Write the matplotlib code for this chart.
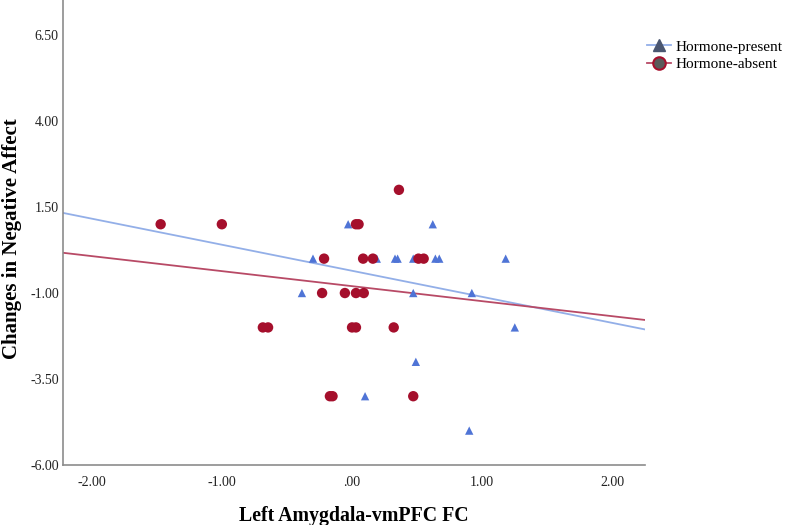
import numpy as np
import matplotlib.pyplot as plt
from matplotlib.lines import Line2D

# hormone-present (blue triangles)
present_x = [-0.03, 0.62,
             -0.30, 0.19, 0.33, 0.35, 0.47, 0.64, 0.67, 1.18,
             -0.385, 0.47, 0.92,
             1.25,
             0.49,
             0.10,
             0.90]
present_y = [1, 1,
             0, 0, 0, 0, 0, 0, 0, 0,
             -1, -1, -1,
             -2,
             -3,
             -4,
             -5]

# hormone-absent (red circles)
absent_x = [0.36,
            -1.47, -1.00, 0.03, 0.05,
            -0.215, 0.085, 0.16, 0.51, 0.55,
            -0.23, -0.055, 0.03, 0.09,
            -0.685, -0.645, 0.00, 0.03, 0.32,
            -0.17, -0.15, 0.47]
absent_y = [2,
            1, 1, 1, 1,
            0, 0, 0, 0, 0,
            -1, -1, -1, -1,
            -2, -2, -2, -2, -2,
            -4, -4, -4]

# fit lines (slope, intercept)
present_fit = (-0.758, -0.353)
absent_fit = (-0.437, -0.80)

x_ticks = [-2, -1, 0, 1, 2]
x_tick_labels = ["-2.00", "-1.00", ".00", "1.00", "2.00"]
y_ticks = [-6, -3.5, -1, 1.5, 4, 6.5]
y_tick_labels = ["-6.00", "-3.50", "-1.00", "1.50", "4.00", "6.50"]

blue_mk = "#4F74D6"
blue_ln = "#93AFE8"
red_mk = "#A50F2C"
red_ln = "#B84A66"

plt.rcParams["font.family"] = ["Liberation Serif", "DejaVu Serif"]

fig = plt.figure(figsize=(7.89, 5.25), dpi=100)
ax = fig.add_axes([63 / 789, 60 / 525, (645 - 63) / 789, 465 / 525])

xmin, xmax = -2.22, 2.25
ax.set_xlim(xmin, xmax)
ax.set_ylim(-6, 7.52)

xs = np.array([xmin, xmax])
ax.plot(xs, present_fit[0] * xs + present_fit[1], color=blue_ln, lw=1.3, zorder=2)
ax.plot(xs, absent_fit[0] * xs + absent_fit[1], color=red_ln, lw=1.3, zorder=2)

ax.scatter(present_x, present_y, marker="^", s=36, color=blue_mk, edgecolors="none", zorder=3)
ax.scatter(absent_x, absent_y, marker="o", s=56, color=red_mk, edgecolors="none", zorder=3)

ax.set_xticks(x_ticks)
ax.set_xticklabels(x_tick_labels)
ax.set_yticks(y_ticks)
ax.set_yticklabels(y_tick_labels)
ax.tick_params(axis="both", length=0, labelsize=10, colors="#222222")
ax.tick_params(axis="x", pad=8)
ax.tick_params(axis="y", pad=3)

for s in ["top", "right"]:
    ax.spines[s].set_visible(False)
for s in ["left", "bottom"]:
    ax.spines[s].set_color("#8c8c8c")
    ax.spines[s].set_linewidth(1.2)

ax.set_xlabel("Left Amygdala-vmPFC FC", fontsize=14.3, fontweight="bold", labelpad=12)
ax.set_ylabel("Changes in Negative Affect", fontsize=15, fontweight="bold")
ax.yaxis.set_label_coords(22 / 789, 1 - 239 / 525, transform=fig.transFigure)

handles = [
    Line2D([0], [0], color=blue_ln, lw=1.3, marker="^", markersize=8,
           markerfacecolor="#4a5670", markeredgecolor="#4a5670"),
    Line2D([0], [0], color=red_ln, lw=1.3, marker="o", markersize=9,
           markerfacecolor="#5a5a5a", markeredgecolor=red_mk, markeredgewidth=1.5),
]
fig.legend(handles, ["Hormone-present", "Hormone-absent"], loc="upper left",
           bbox_to_anchor=(0.802, 0.95), frameon=False, fontsize=11,
           handlelength=1.6, handletextpad=0.3, labelspacing=0.25)

fig.savefig("out.png", dpi=100)
